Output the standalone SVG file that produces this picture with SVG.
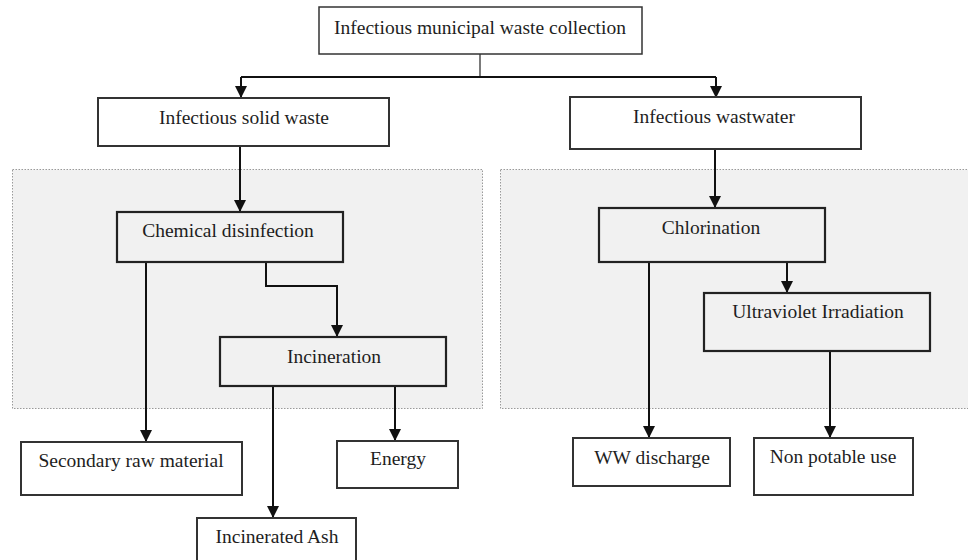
<svg xmlns="http://www.w3.org/2000/svg" width="968" height="560" viewBox="0 0 968 560">
  <style>
    .box { fill: #ffffff; stroke: #333333; stroke-width: 2; }
    .inbox { fill: #f1f1f1; stroke: #222222; stroke-width: 2.2; }
    .zone { fill: #f1f1f1; stroke: #9a9a9a; stroke-width: 1; stroke-dasharray: 1.5 1.5; }
    .lbl { font-family: "Liberation Serif", "Times New Roman", serif; font-size: 19.5px; fill: #1e1e1e; text-anchor: middle; }
    .link { fill: none; stroke: #111111; stroke-width: 2; }
    .thin { fill: none; stroke: #333333; stroke-width: 1.3; }
  </style>
  <defs>
    <marker id="arrow" viewBox="0 0 10 10" refX="10" refY="5" markerUnits="userSpaceOnUse" markerWidth="14" markerHeight="12" orient="auto">
      <path d="M0,0 L10,5 L0,10 z" fill="#111111"/>
    </marker>
  </defs>

  <rect width="968" height="560" fill="#ffffff"/>

  <!-- shaded treatment zones -->
  <rect class="zone" x="12.5" y="169.5" width="470" height="239"/>
  <rect class="zone" x="500.5" y="169.5" width="470" height="239"/>

  <g id="connectors">
    <path class="thin" d="M480,54 V77"/>
    <path class="link" d="M241,77 H716"/>
    <path class="link" d="M241,77 V98" marker-end="url(#arrow)"/>
    <path class="link" d="M716,77 V98" marker-end="url(#arrow)"/>
    <path class="link" d="M240,146 V212" marker-end="url(#arrow)"/>
    <path class="link" d="M146,262 V442" marker-end="url(#arrow)"/>
    <path class="link" d="M266,262 V286 H337 V337" marker-end="url(#arrow)"/>
    <path class="link" d="M273,386 V518" marker-end="url(#arrow)"/>
    <path class="link" d="M395,386 V441" marker-end="url(#arrow)"/>
    <path class="link" d="M715,149 V208" marker-end="url(#arrow)"/>
    <path class="link" d="M649,262 V438" marker-end="url(#arrow)"/>
    <path class="link" d="M787,262 V293" marker-end="url(#arrow)"/>
    <path class="link" d="M830,351 V438" marker-end="url(#arrow)"/>
  </g>

  <g id="collection">
    <rect class="box" x="319" y="7" width="323" height="47" style="stroke-width:1.5"/>
    <text class="lbl" x="480" y="34">Infectious municipal waste collection</text>
  </g>

  <g id="solid-waste">
    <rect class="box" x="98" y="98" width="291" height="48"/>
    <text class="lbl" x="244" y="124">Infectious solid waste</text>
  </g>

  <g id="wastewater">
    <rect class="box" x="570" y="97" width="291" height="52"/>
    <text class="lbl" x="714" y="123">Infectious wastwater</text>
  </g>

  <g id="chemical-disinfection">
    <rect class="inbox" x="117" y="212" width="226" height="50"/>
    <text class="lbl" x="228" y="237">Chemical disinfection</text>
  </g>

  <g id="incineration">
    <rect class="inbox" x="220" y="337" width="226" height="49"/>
    <text class="lbl" x="334" y="363">Incineration</text>
  </g>

  <g id="chlorination">
    <rect class="inbox" x="599" y="208" width="226" height="54"/>
    <text class="lbl" x="711" y="234">Chlorination</text>
  </g>

  <g id="uv-irradiation">
    <rect class="inbox" x="704" y="293" width="226" height="58"/>
    <text class="lbl" x="818" y="318">Ultraviolet Irradiation</text>
  </g>

  <g id="secondary-raw-material">
    <rect class="box" x="21" y="442" width="221" height="53"/>
    <text class="lbl" x="131" y="467">Secondary raw material</text>
  </g>

  <g id="incinerated-ash">
    <rect class="box" x="197" y="518" width="159" height="50"/>
    <text class="lbl" x="277" y="543">Incinerated Ash</text>
  </g>

  <g id="energy">
    <rect class="box" x="337" y="441" width="121" height="47"/>
    <text class="lbl" x="398" y="465">Energy</text>
  </g>

  <g id="ww-discharge">
    <rect class="box" x="573" y="438" width="157" height="48"/>
    <text class="lbl" x="652" y="464">WW discharge</text>
  </g>

  <g id="non-potable-use">
    <rect class="box" x="754" y="438" width="159" height="57"/>
    <text class="lbl" x="833" y="463">Non potable use</text>
  </g>
</svg>
